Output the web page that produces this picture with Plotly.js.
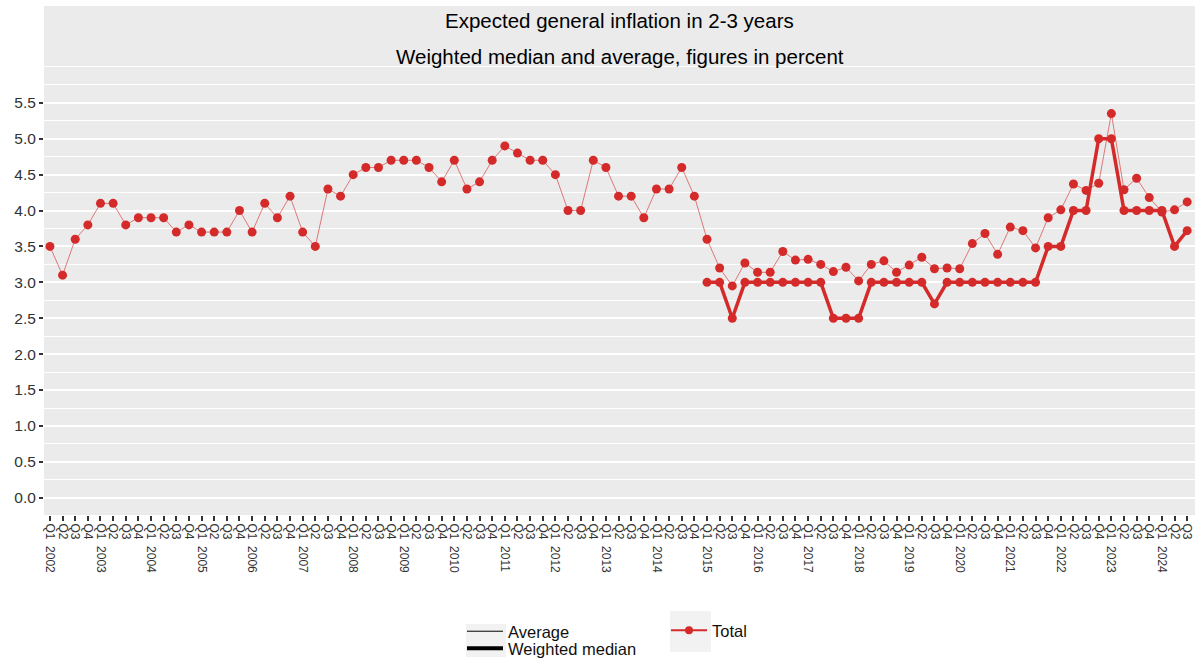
<!DOCTYPE html>
<html>
<head>
<meta charset="utf-8">
<script src="https://cdn.plot.ly/plotly-3.0.1.min.js"></script>
<style>html,body{margin:0;padding:0;background:#fff;}#chart{width:1198px;height:663px;}</style>
</head>
<body>
<div id="chart"></div>
<script>
// Quarter categories (unique ids) and their tick labels
const quarters = [
  "2002 Q1","2002 Q2","2002 Q3","2002 Q4","2003 Q1","2003 Q2","2003 Q3","2003 Q4",
  "2004 Q1","2004 Q2","2004 Q3","2004 Q4","2005 Q1","2005 Q2","2005 Q3","2005 Q4",
  "2006 Q1","2006 Q2","2006 Q3","2006 Q4","2007 Q1","2007 Q2","2007 Q3","2007 Q4",
  "2008 Q1","2008 Q2","2008 Q3","2008 Q4","2009 Q1","2009 Q2","2009 Q3","2009 Q4",
  "2010 Q1","2010 Q2","2010 Q3","2010 Q4","2011 Q1","2011 Q2","2011 Q3","2011 Q4",
  "2012 Q1","2012 Q2","2012 Q3","2012 Q4","2013 Q1","2013 Q2","2013 Q3","2013 Q4",
  "2014 Q1","2014 Q2","2014 Q3","2014 Q4","2015 Q1","2015 Q2","2015 Q3","2015 Q4",
  "2016 Q1","2016 Q2","2016 Q3","2016 Q4","2017 Q1","2017 Q2","2017 Q3","2017 Q4",
  "2018 Q1","2018 Q2","2018 Q3","2018 Q4","2019 Q1","2019 Q2","2019 Q3","2019 Q4",
  "2020 Q1","2020 Q2","2020 Q3","2020 Q4","2021 Q1","2021 Q2","2021 Q3","2021 Q4",
  "2022 Q1","2022 Q2","2022 Q3","2022 Q4","2023 Q1","2023 Q2","2023 Q3","2023 Q4",
  "2024 Q1","2024 Q2","2024 Q3"
];
const S = "\u00a0\u00a0";
const tickLabels = [
  "Q1"+S+"2002","Q2","Q3","Q4","Q1"+S+"2003","Q2","Q3","Q4",
  "Q1"+S+"2004","Q2","Q3","Q4","Q1"+S+"2005","Q2","Q3","Q4",
  "Q1"+S+"2006","Q2","Q3","Q4","Q1"+S+"2007","Q2","Q3","Q4",
  "Q1"+S+"2008","Q2","Q3","Q4","Q1"+S+"2009","Q2","Q3","Q4",
  "Q1"+S+"2010","Q2","Q3","Q4","Q1"+S+"2011","Q2","Q3","Q4",
  "Q1"+S+"2012","Q2","Q3","Q4","Q1"+S+"2013","Q2","Q3","Q4",
  "Q1"+S+"2014","Q2","Q3","Q4","Q1"+S+"2015","Q2","Q3","Q4",
  "Q1"+S+"2016","Q2","Q3","Q4","Q1"+S+"2017","Q2","Q3","Q4",
  "Q1"+S+"2018","Q2","Q3","Q4","Q1"+S+"2019","Q2","Q3","Q4",
  "Q1"+S+"2020","Q2","Q3","Q4","Q1"+S+"2021","Q2","Q3","Q4",
  "Q1"+S+"2022","Q2","Q3","Q4","Q1"+S+"2023","Q2","Q3","Q4",
  "Q1"+S+"2024","Q2","Q3"
];
// Average, 2002 Q1 - 2024 Q3
const average = [
  3.5, 3.1, 3.6, 3.8,   4.1, 4.1, 3.8, 3.9,   3.9, 3.9, 3.7, 3.8,
  3.7, 3.7, 3.7, 4.0,   3.7, 4.1, 3.9, 4.2,   3.7, 3.5, 4.3, 4.2,
  4.5, 4.6, 4.6, 4.7,   4.7, 4.7, 4.6, 4.4,   4.7, 4.3, 4.4, 4.7,
  4.9, 4.8, 4.7, 4.7,   4.5, 4.0, 4.0, 4.7,   4.6, 4.2, 4.2, 3.9,
  4.3, 4.3, 4.6, 4.2,   3.6, 3.2, 2.95, 3.27, 3.14, 3.14, 3.43, 3.31,
  3.32, 3.25, 3.15, 3.21, 3.02, 3.25, 3.30, 3.14, 3.24, 3.35, 3.19, 3.20,
  3.19, 3.54, 3.68, 3.39, 3.77, 3.72, 3.48, 3.90, 4.01, 4.37, 4.28, 4.38,
  5.35, 4.29, 4.45, 4.18, 3.98, 4.01, 4.12
];
// Weighted median, 2015 Q1 - 2024 Q3
const medianQuarters = quarters.slice(quarters.indexOf("2015 Q1"));
const weightedMedian = [
  3.0, 3.0, 2.5, 3.0,   3.0, 3.0, 3.0, 3.0,   3.0, 3.0, 2.5, 2.5,
  2.5, 3.0, 3.0, 3.0,   3.0, 3.0, 2.7, 3.0,   3.0, 3.0, 3.0, 3.0,
  3.0, 3.0, 3.0, 3.5,   3.5, 4.0, 4.0, 5.0,   5.0, 4.0, 4.0, 4.0,
  4.0, 3.5, 3.72
];
const yTicks = [0,0.5,1,1.5,2,2.5,3,3.5,4,4.5,5,5.5];

const RED = '#D42A2A';
const FONT = 'Liberation Sans, Arial, sans-serif';
const W = 1198, H = 663;

const traces = [
  {
    x: quarters, y: average, type: 'scatter', mode: 'lines+markers',
    line: {color: 'rgba(212,42,42,0.6)', width: 1},
    marker: {color: RED, size: 9},
    showlegend: false, hoverinfo: 'x+y'
  },
  {
    x: medianQuarters, y: weightedMedian, type: 'scatter', mode: 'lines+markers',
    line: {color: RED, width: 3.5},
    marker: {color: RED, size: 9},
    showlegend: false, hoverinfo: 'x+y'
  },
  // legend-only entries
  {x: [null], y: [null], type: 'scatter', mode: 'lines', name: 'Average',
   line: {color: '#000', width: 1}, legend: 'legend'},
  {x: [null], y: [null], type: 'scatter', mode: 'lines', name: 'Weighted median',
   line: {color: '#000', width: 4}, legend: 'legend3'},
  {x: [null], y: [null], type: 'scatter', mode: 'lines+markers', name: 'Total',
   line: {color: RED, width: 2}, marker: {color: RED, size: 8}, legend: 'legend2'}
];

const ph = 448; // plot height in px (515 - 67)
function legendAt(px, py) {
  return {
    x: px / W, y: 1 - py / H, xref: 'container', yref: 'container',
    xanchor: 'left', yanchor: 'top', orientation: 'v', bgcolor: 'rgba(0,0,0,0)',
    font: {size: 16.5, color: '#111', family: FONT}, itemwidth: 36, tracegroupgap: 0
  };
}
const layout = {
  width: W, height: H,
  margin: {l: 44, r: 3, t: 67, b: 148, autoexpand: false},
  paper_bgcolor: '#ffffff',
  plot_bgcolor: '#EBEBEB',
  font: {family: FONT, color: '#333'},
  xaxis: {
    type: 'category',
    categoryorder: 'array', categoryarray: quarters,
    range: [-0.47, 90.62],
    tickmode: 'array', tickvals: quarters, ticktext: tickLabels,
    tickangle: 90,
    tickfont: {size: 12, color: '#333', family: FONT},
    ticks: 'outside', ticklen: 5, tickwidth: 1.5, tickcolor: '#333',
    showgrid: false, zeroline: false, showline: false,
    automargin: false, fixedrange: true
  },
  yaxis: {
    range: [-0.24, 5.999],
    tickmode: 'array', tickvals: yTicks,
    tickformat: '.1f',
    tickfont: {size: 15.5, color: '#333', family: FONT},
    ticks: 'outside', ticklen: 4, tickwidth: 1.5, tickcolor: '#333',
    showgrid: true, gridcolor: '#ffffff', gridwidth: 1.6,
    minor: {tickmode: 'linear', tick0: 0, dtick: 0.25, showgrid: true, gridcolor: '#ffffff', gridwidth: 0.8, ticks: ''},
    zeroline: false, showline: false,
    automargin: false, fixedrange: true
  },
  shapes: [
    // title strip above the panel
    {type: 'rect', xref: 'paper', yref: 'paper', x0: 0, x1: 1,
     y0: 1 + 1/ph, y1: 1 + 61/ph, fillcolor: '#EBEBEB', line: {width: 0}, layer: 'below'},
    // legend key backgrounds
    {type: 'rect', xref: 'paper', yref: 'paper',
     x0: (466-44)/1151, x1: (506-44)/1151, y0: (515-657)/ph, y1: (515-624)/ph,
     fillcolor: '#F2F2F2', line: {width: 0}, layer: 'below'},
    {type: 'rect', xref: 'paper', yref: 'paper',
     x0: (670-44)/1151, x1: (711-44)/1151, y0: (515-652)/ph, y1: (515-611)/ph,
     fillcolor: '#F2F2F2', line: {width: 0}, layer: 'below'}
  ],
  annotations: [
    {text: 'Expected general inflation in 2-3 years', xref: 'paper', yref: 'paper',
     x: 0.5, y: 1 + (515-20-ph)/ph, xanchor: 'center', yanchor: 'middle', showarrow: false,
     font: {size: 20.5, color: '#000', family: FONT}},
    {text: 'Weighted median and average, figures in percent', xref: 'paper', yref: 'paper',
     x: 0.5, y: 1 + (515-57-ph)/ph, xanchor: 'center', yanchor: 'middle', showarrow: false,
     font: {size: 20.5, color: '#000', family: FONT}}
  ],
  legend: legendAt(462, 614),
  legend3: legendAt(462, 631),
  legend2: legendAt(666, 613),
  hovermode: 'closest'
};

Plotly.newPlot('chart', traces, layout, {displayModeBar: false});
</script>
</body>
</html>
